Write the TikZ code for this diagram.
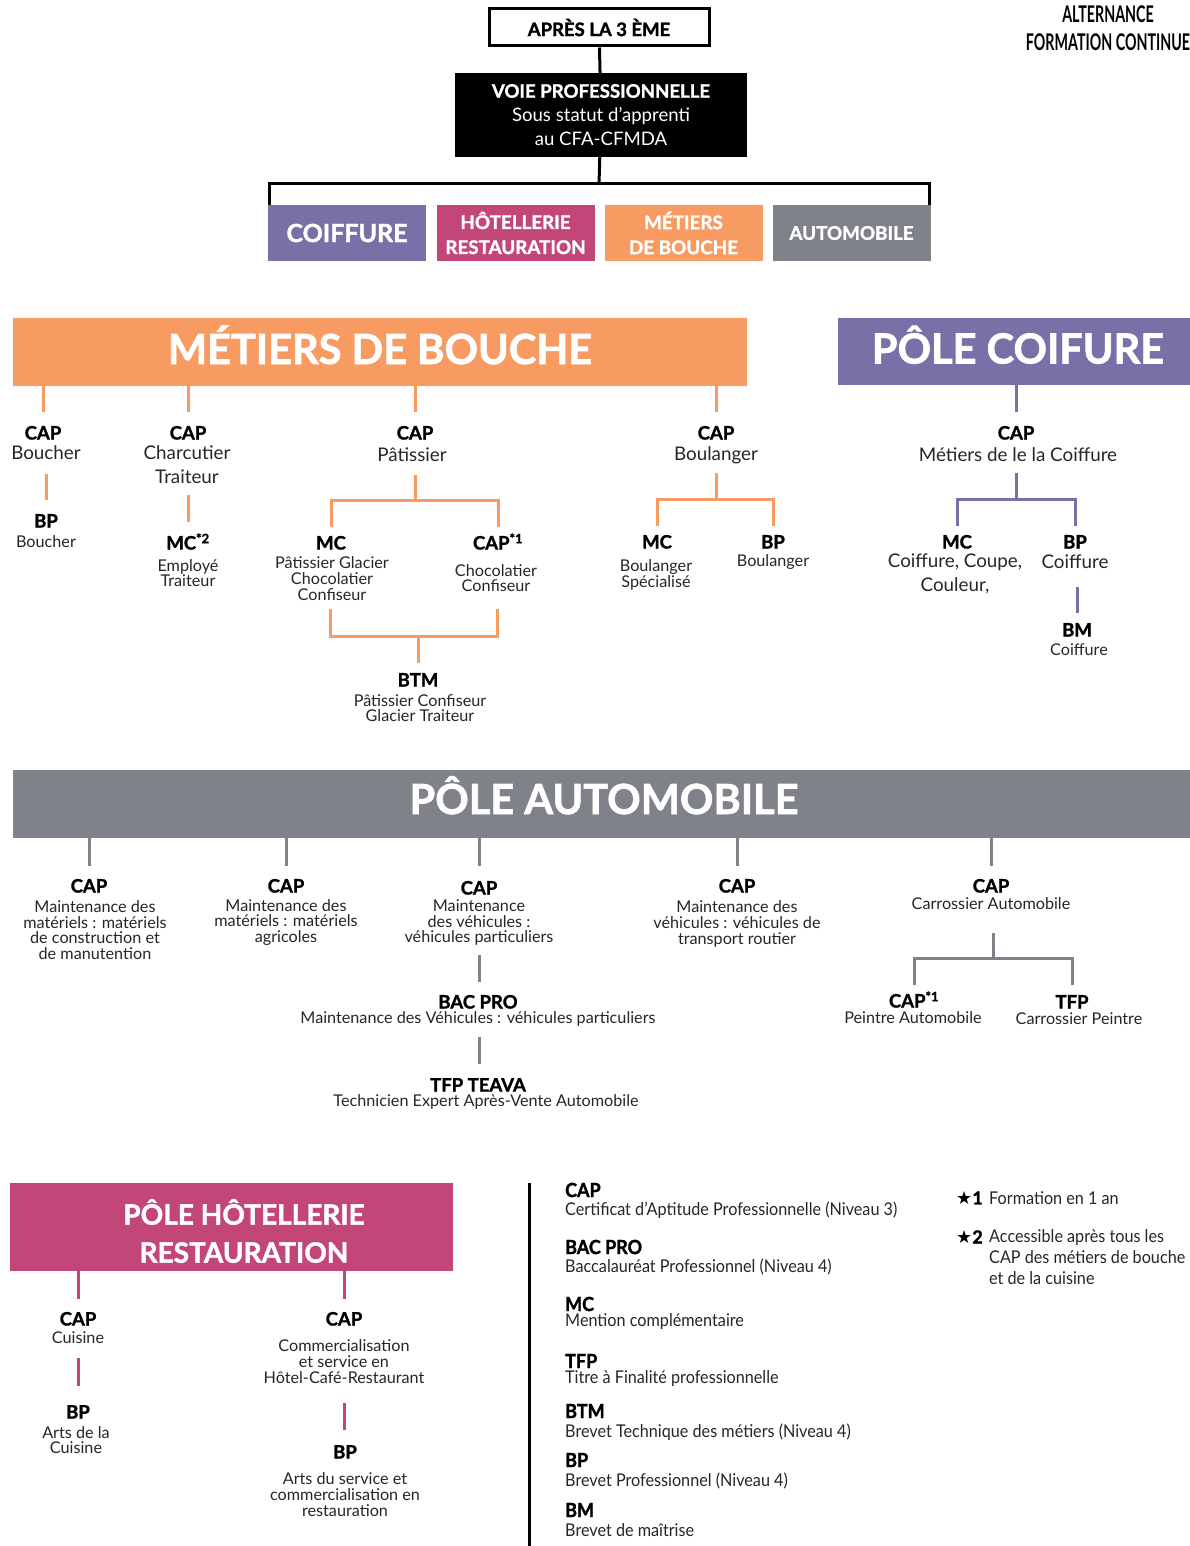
\documentclass[tikz,border=0pt]{standalone}
\usepackage{fontspec}
\setmainfont{Lato}[BoldFeatures={FakeBold=1.5}]
\newfontfamily\condf{Lato}[FakeStretch=0.62]
\newfontfamily\legf{Lato}[FakeStretch=0.92,BoldFeatures={FakeBold=1.5}]
\newfontfamily\starf{DejaVu Sans}
\newcommand\fz[2]{\fontsize{#1}{#2}\selectfont}
\definecolor{cor}{HTML}{F79B62}
\definecolor{cpu}{HTML}{7A70A8}
\definecolor{cpk}{HTML}{C34678}
\definecolor{cgr}{HTML}{7F8389}
\definecolor{txt}{HTML}{262626}
\begin{document}
\begin{tikzpicture}[x=1pt,y=-1pt,
  kb/.style={line width=3pt,draw=black},
  ob/.style={line width=3pt,draw=cor},
  pb/.style={line width=3pt,draw=cpu},
  gb/.style={line width=3pt,draw=cgr},
  hb/.style={line width=3pt,draw=cpk},
  ttl/.style={inner sep=0pt,text height=13pt,text depth=0pt,font=\fz{18.5}{18.5}\bfseries},
  dL/.style={inner sep=0pt,align=center,text=txt,font=\fz{18.8}{24}},
  dM/.style={inner sep=0pt,align=center,text=txt,font=\fz{16.2}{15.7}},
  catbox/.style={inner sep=0pt,minimum width=158,minimum height=56,text=white,align=center,font=\fz{18.8}{25}\bfseries},
  banner/.style={inner sep=0pt,text=white,text height=30pt,text depth=6pt,font=\fz{41.5}{41.5}\bfseries},
  legt/.style={inner sep=0pt,anchor=west,font=\legf\fz{19.5}{19.5}\bfseries},
  legd/.style={inner sep=0pt,anchor=west,text=txt,font=\legf\fz{17.6}{17.6}},
]
\useasboundingbox[fill=white] (0,0) rectangle (1190,1546);

% ---------- top ----------
\node[draw,line width=3pt,minimum width=220,minimum height=37,inner sep=0pt,font=\fz{18.5}{18.5}\bfseries] (apres) at (599,27.5) {APRÈS LA 3 ÈME};
\node[fill=black,minimum width=292,minimum height=84,inner sep=0pt,text=white,align=center,font=\fz{18.6}{24}] (voie) at (601,115) {\textbf{VOIE PROFESSIONNELLE}\\Sous statut d’apprenti\\au CFA-CFMDA};
\node[catbox,fill=cpu,font=\fz{25}{25}\bfseries] (coif) at (347,233) {COIFFURE};
\node[catbox,fill=cpk] (hot) at (515.5,233) {HÔTELLERIE\\RESTAURATION};
\node[catbox,fill=cor] (bou) at (683.5,233) {MÉTIERS\\DE BOUCHE};
\node[catbox,fill=cgr] (auto) at (851.5,233) {AUTOMOBILE};
\coordinate (jt) at (599,184);
\draw[kb] (apres) -- (voie);
\draw[kb] (voie) -- (jt);
\draw[kb,line join=miter] ([xshift=1.5pt]coif.north west) |- (jt) -| ([xshift=-1.5pt]auto.north east);

\node[inner sep=0pt,align=center,font=\condf\fz{23}{28}\bfseries] (alt) at (1108,28) {ALTERNANCE\\FORMATION CONTINUE};

% ---------- banners ----------
\node[banner,fill=cor,minimum width=734,minimum height=68] (bouche) at (380,352) {MÉTIERS DE BOUCHE};
\node[banner,fill=cpu,minimum width=352,minimum height=67] (coifB) at (1014,351.5) {\hspace{8pt}PÔLE COIFURE};
\node[banner,fill=cgr,minimum width=1177,minimum height=68,text depth=10pt] (autoB) at (601.5,804) {\hspace{5pt}PÔLE AUTOMOBILE};
\node[fill=cpk,minimum width=443,minimum height=88,inner sep=0pt] (hotB) at (231.5,1227) {};
\node[inner sep=0pt,align=center,text=white,font=\fz{28}{38}\bfseries] (hotT) at (244,1231) {PÔLE HÔTELLERIE\\RESTAURATION};

% ---------- métiers de bouche ----------
\node[ttl] (b1cap) at (43,433) {CAP};
\node[dL] (b1d) at (46,453) {Boucher};
\node[ttl] (b1bp) at (46,521) {BP};
\node[dM] (b1bpd) at (46,542) {Boucher};

\node[ttl] (b2cap) at (188,433) {CAP};
\node[dL] (b2d) at (187,465) {Charcutier\\Traiteur};
\node[ttl] (b2mc) at (188,543) {MC\textsuperscript{*2}};
\node[dM] (b2mcd) at (188,573) {Employé\\Traiteur};

\node[ttl] (b3cap) at (415,433) {CAP};
\node[dL] (b3d) at (412,455) {Pâtissier};
\node[ttl] (b3mc) at (331,543) {MC};
\node[dM] (b3mcd) at (332,578.5) {Pâtissier Glacier\\Chocolatier\\Confiseur};
\node[ttl] (b3cap1) at (498,543) {CAP\textsuperscript{*1}};
\node[dM] (b3capd) at (496,578) {Chocolatier\\Confiseur};
\node[ttl] (b3btm) at (418,680) {BTM};
\node[dM] (b3btmd) at (420,708) {Pâtissier Confiseur\\Glacier Traiteur};

\node[ttl] (b4cap) at (716,433) {CAP};
\node[dL] (b4d) at (716,455) {Boulanger};
\node[ttl] (b4mc) at (657,542) {MC};
\node[dM] (b4mcd) at (656,575) {Boulanger\\Spécialisé};
\node[ttl] (b4bp) at (773,542) {BP};
\node[dM] (b4bpd) at (773,562) {Boulanger};

\foreach \n in {b1cap,b2cap,b3cap,b4cap}
  \draw[ob,shorten >=21pt] (bouche.south -| \n) -- (\n.center);
\draw[ob,shorten <=21pt,shorten >=21pt] (b1d.center) -- (b1d.center |- b1bp.center);
\draw[ob,shorten <=30pt,shorten >=21pt] (b2cap.center |- b2d.center) -- (b2cap.center |- b2mc.center);
\coordinate (j3) at (415,500);
\draw[ob,shorten <=20pt] (j3 |- b3d.center) -- (j3);
\draw[ob,shorten <=16pt,shorten >=16pt] (b3mc.center) |- (j3) -| (b3cap1.center);
\coordinate (j3b) at (418,636);
\draw[ob,shorten <=30.5pt,shorten >=31pt] ([xshift=-2pt]b3mcd.center) |- (j3b) -| ([xshift=1pt]b3capd.center);
\draw[ob,shorten >=17pt] (j3b) -- (b3btm.center);
\coordinate (j4) at (716,499);
\draw[ob,shorten <=18pt] (j4 |- b4d.center) -- (j4);
\draw[ob,shorten <=16pt,shorten >=16pt] (b4mc.center) |- (j4) -| (b4bp.center);

% ---------- coiffure ----------
\node[ttl] (c1cap) at (1016,433) {CAP};
\node[dL] (c1d) at (1018,455) {Métiers de le la Coiffure};
\node[ttl] (c1mc) at (957,542) {MC};
\node[dL] (c1mcd) at (955,574) {Coiffure, Coupe,\\Couleur,};
\node[ttl] (c1bp) at (1075,542) {BP};
\node[dL] (c1bpd) at (1075,562) {Coiffure};
\node[ttl] (c1bm) at (1077,630) {BM};
\node[dM] (c1bmd) at (1079,650) {Coiffure};

\draw[pb,shorten >=21pt] (coifB.south -| c1cap) -- (c1cap.center);
\coordinate (jc) at (1016,499);
\draw[pb,shorten <=18pt] (jc |- c1d.center) -- (jc);
\draw[pb,shorten <=16pt,shorten >=16pt] (c1mc.center) |- (jc) -| (c1bp.center);
\draw[pb,shorten <=25pt,shorten >=17pt] (c1bm.center |- c1bpd.center) -- (c1bm.center);

% ---------- automobile ----------
\node[ttl] (a1cap) at (89,886) {CAP};
\node[dM] (a1d) at (95,930) {Maintenance des\\matériels : matériels\\de construction et\\de manutention};
\node[ttl] (a2cap) at (286,886) {CAP};
\node[dM] (a2d) at (286,922.5) {Maintenance des\\matériels : matériels\\agricoles};
\node[ttl] (a3cap) at (479,888) {CAP};
\node[dM] (a3d) at (479,922.5) {Maintenance\\des véhicules :\\véhicules particuliers};
\node[ttl] (a3bac) at (478,1002) {BAC PRO};
\node[dM] (a3bacd) at (478,1019) {Maintenance des Véhicules : véhicules particuliers};
\node[ttl] (a3tfp) at (478,1085) {TFP TEAVA};
\node[dM] (a3tfpd) at (486,1102) {Technicien Expert Après-Vente Automobile};
\node[ttl] (a4cap) at (737,886) {CAP};
\node[dM] (a4d) at (737,924) {Maintenance des\\véhicules : véhicules de\\transport routier};
\node[ttl] (a5cap) at (991,886) {CAP};
\node[dM] (a5d) at (991,904) {Carrossier Automobile};
\node[ttl] (a5cap1) at (914,1001) {CAP\textsuperscript{*1}};
\node[dM] (a5cap1d) at (913,1018) {Peintre Automobile};
\node[ttl] (a5tfp) at (1072,1002) {TFP};
\node[dM] (a5tfpd) at (1079,1019) {Carrossier Peintre};

\draw[gb,shorten >=20pt] (autoB.south -| a1cap) -- (a1cap.center);
\draw[gb,shorten >=20pt] (autoB.south -| a2cap) -- (a2cap.center);
\draw[gb,shorten >=22pt] (autoB.south -| a3cap) -- (a3cap.center);
\draw[gb,shorten >=20pt] (autoB.south -| a4cap) -- (a4cap.center);
\draw[gb,shorten >=20pt] (autoB.south -| a5cap) -- (a5cap.center);
\draw[gb,shorten <=32.5pt,shorten >=20pt] (a3d.center) -- (a3d.center |- a3bac.center);
\draw[gb,shorten <=18pt,shorten >=21pt] (a3cap.center |- a3bacd.center) -- (a3cap.center |- a3tfp.center);
\coordinate (ja5) at (993,958);
\draw[gb,shorten <=29pt] (ja5 |- a5d.center) -- (ja5);
\draw[gb,shorten <=16pt,shorten >=17pt] (a5cap1.center) |- (ja5) -| (a5tfp.center);

% ---------- hotellerie ----------
\node[ttl] (h1cap) at (78,1319) {CAP};
\node[dM] (h1d) at (78,1338) {Cuisine};
\node[ttl] (h1bp) at (78,1412) {BP};
\node[dM] (h1bpd) at (76,1440) {Arts de la\\Cuisine};
\node[ttl] (h2cap) at (344,1319) {CAP};
\node[dM] (h2d) at (344,1361.5) {Commercialisation\\et service en\\Hôtel-Café-Restaurant};
\node[ttl] (h2bp) at (345,1452) {BP};
\node[dM] (h2bpd) at (345,1494.5) {Arts du service et\\commercialisation en\\restauration};

\draw[hb,shorten >=20pt] (hotB.south -| h1cap) -- (h1cap.center);
\draw[hb,shorten >=20pt] (hotB.south -| h2cap) -- (h2cap.center);
\draw[hb,shorten <=20pt,shorten >=26pt] (h1d.center) -- (h1d.center |- h1bp.center);
\draw[hb,shorten <=41.5pt,shorten >=22pt] (h2d.center) -- (h2d.center |- h2bp.center);

% ---------- legend ----------
\coordinate (sepTop) at (529,1183);
\coordinate (sepBot) at (529,1546);
\draw[kb] (sepTop) -- (sepBot);

\node[legt] (lg1) at (565,1190) {CAP};
\node[legd] (lg1d) at (565,1210) {Certificat d’Aptitude Professionnelle (Niveau 3)};
\node[legt] (lg2) at (565,1247) {BAC PRO};
\node[legd] (lg2d) at (565,1267) {Baccalauréat Professionnel (Niveau 4)};
\node[legt] (lg3) at (565,1304) {MC};
\node[legd] (lg3d) at (565,1322) {Mention complémentaire};
\node[legt] (lg4) at (565,1361) {TFP};
\node[legd] (lg4d) at (565,1379) {Titre à Finalité professionnelle};
\node[legt] (lg5) at (565,1411) {BTM};
\node[legd] (lg5d) at (565,1432) {Brevet Technique des métiers (Niveau 4)};
\node[legt] (lg6) at (565,1460) {BP};
\node[legd] (lg6d) at (565,1481) {Brevet Professionnel (Niveau 4)};
\node[legt] (lg7) at (565,1510) {BM};
\node[legd] (lg7d) at (565,1530) {Brevet de maîtrise};

\node[inner sep=0pt,anchor=west,font=\fz{18}{18}\bfseries] (st1) at (956,1198) {{\starf ★}1};
\node[legd] (st1d) at (989,1198) {Formation en 1 an};
\node[inner sep=0pt,anchor=west,font=\fz{18}{18}\bfseries] (st2) at (956,1237) {{\starf ★}2};
\node[inner sep=0pt,anchor=west,align=left,text=txt,font=\legf\fz{17.6}{21}] (st2d) at (989,1257) {Accessible après tous les\\CAP des métiers de bouche\\et de la cuisine};
\end{tikzpicture}
\end{document}
